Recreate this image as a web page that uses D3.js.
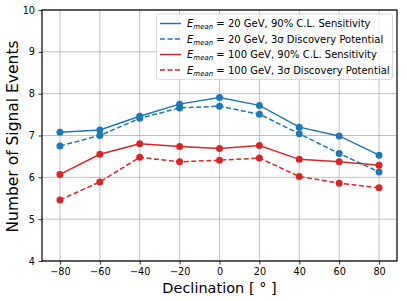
<!DOCTYPE html>
<html>
<head>
<meta charset="utf-8">
<script src="https://cdn.jsdelivr.net/npm/d3@7"></script>
<style>
  body { margin: 0; background: #fff; }
  svg text { font-family: "DejaVu Sans", sans-serif; }
</style>
</head>
<body>
<div id="visHolder"></div>
<script>
let width = 407;
let height = 301;
let margin = { left: 42, right: 10, top: 10, bottom: 40 };

const declination = [-80, -60, -40, -20, 0, 20, 40, 60, 80];
const sens20 = [7.08, 7.13, 7.46, 7.75, 7.91, 7.72, 7.20, 6.99, 6.53];
const disc20 = [6.75, 7.00, 7.41, 7.66, 7.70, 7.51, 7.04, 6.57, 6.13];
const sens100 = [6.07, 6.55, 6.80, 6.74, 6.69, 6.76, 6.43, 6.37, 6.29];
const disc100 = [5.46, 5.89, 6.48, 6.37, 6.41, 6.46, 6.02, 5.86, 5.75];
const xTicks = [-80, -60, -40, -20, 0, 20, 40, 60, 80];
const yTicks = [4, 5, 6, 7, 8, 9, 10];

const series = [
    { values: sens20, color: "#1f77b4", dash: null, label: " = 20 GeV, 90% C.L. Sensitivity" },
    { values: disc20, color: "#1f77b4", dash: "5,2.5", label: " = 20 GeV, 3\u03c3 Discovery Potential" },
    { values: sens100, color: "#d62728", dash: null, label: " = 100 GeV, 90% C.L. Sensitivity" },
    { values: disc100, color: "#d62728", dash: "5,2.5", label: " = 100 GeV, 3\u03c3 Discovery Potential" }
];

let svg = d3.select("#visHolder")
    .append("svg")
    .attr("width", width)
    .attr("height", height);

let xScale = d3.scaleLinear()
    .domain([-89, 89])
    .range([margin.left, width - margin.right]);
let yScale = d3.scaleLinear()
    .domain([4, 10])
    .range([height - margin.bottom, margin.top]);

// grid
svg.append("g")
    .selectAll("line")
    .data(xTicks)
    .enter()
    .append("line")
    .attr("x1", d => xScale(d)).attr("x2", d => xScale(d))
    .attr("y1", yScale(4)).attr("y2", yScale(10))
    .attr("stroke", "#b0b0b0").attr("stroke-width", 0.8);
svg.append("g")
    .selectAll("line")
    .data(yTicks)
    .enter()
    .append("line")
    .attr("y1", d => yScale(d)).attr("y2", d => yScale(d))
    .attr("x1", xScale(-89)).attr("x2", xScale(89))
    .attr("stroke", "#b0b0b0").attr("stroke-width", 0.8);

let line = d3.line()
    .x((d, i) => xScale(declination[i]))
    .y(d => yScale(d));

series.forEach(s => {
    svg.append("path")
        .datum(s.values)
        .attr("d", line)
        .attr("fill", "none")
        .attr("stroke", s.color)
        .attr("stroke-width", 1.5)
        .attr("stroke-dasharray", s.dash);
    svg.append("g")
        .selectAll("circle")
        .data(s.values)
        .enter()
        .append("circle")
        .attr("cx", (d, i) => xScale(declination[i]))
        .attr("cy", d => yScale(d))
        .attr("r", 3.5)
        .attr("fill", s.color);
});

// axes
let xAxis = d3.axisBottom(xScale)
    .tickValues(xTicks)
    .tickSize(3.5)
    .tickPadding(3.5)
    .tickFormat(t => t < 0 ? "\u2212" + Math.abs(t) : t);
let gx = svg.append("g")
    .attr("transform", "translate(0," + (height - margin.bottom) + ")")
    .call(xAxis);
let yAxis = d3.axisLeft(yScale)
    .tickValues(yTicks)
    .tickSize(3.5)
    .tickPadding(3.5)
    .tickFormat(d3.format("d"));
let gy = svg.append("g")
    .attr("transform", "translate(" + margin.left + ",0)")
    .call(yAxis);
[gx, gy].forEach(g => {
    g.select(".domain").remove();
    g.selectAll("text").attr("font-size", 9.7).attr("fill", "#000")
        .style("font-family", "DejaVu Sans");
    g.selectAll("line").attr("stroke", "#000").attr("stroke-width", 0.8);
});

// frame
svg.append("rect")
    .attr("x", xScale(-89)).attr("y", yScale(10))
    .attr("width", xScale(89) - xScale(-89))
    .attr("height", yScale(4) - yScale(10))
    .attr("fill", "none").attr("stroke", "#000").attr("stroke-width", 1.2);

// axis labels
svg.append("text")
    .attr("x", (xScale(-89) + xScale(89)) / 2)
    .attr("y", 293)
    .attr("text-anchor", "middle")
    .attr("font-size", 14.5)
    .text("Declination [ \u00b0 ]");
svg.append("text")
    .attr("transform", "translate(18," + (yScale(7) + 1) + ") rotate(-90)")
    .attr("text-anchor", "middle")
    .attr("font-size", 15.5)
    .text("Number of Signal Events");

// legend
let legend = svg.append("g");
legend.append("rect")
    .attr("x", 156.5).attr("y", 14)
    .attr("width", 236).attr("height", 65.5)
    .attr("rx", 2.5)
    .attr("fill", "#fff").attr("fill-opacity", 0.8)
    .attr("stroke", "#d0d0d0").attr("stroke-width", 0.8);
series.forEach((s, i) => {
    let yy = 23.5 + i * 15.5;
    legend.append("line")
        .attr("x1", 160).attr("x2", 181)
        .attr("y1", yy).attr("y2", yy)
        .attr("stroke", s.color).attr("stroke-width", 1.5)
        .attr("stroke-dasharray", s.dash);
    let t = legend.append("text")
        .attr("x", 187).attr("y", yy + 3.5)
        .attr("font-size", 10);
    t.append("tspan").attr("font-style", "italic").text("E");
    t.append("tspan").attr("font-style", "italic").attr("font-size", 7)
        .attr("dy", 2).text("mean");
    t.append("tspan").attr("dy", -2).text(s.label);
});
</script>
</body>
</html>
